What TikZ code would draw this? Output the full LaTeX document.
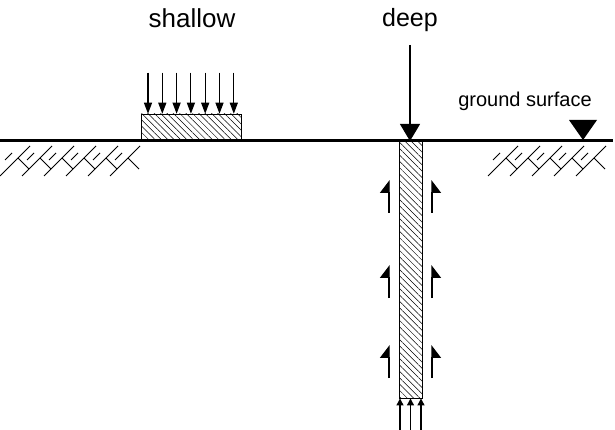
\documentclass[tikz,border=0pt]{standalone}
\usepackage{fontspec}
\setmainfont{Liberation Sans}
\usetikzlibrary{arrows.meta,patterns.meta}

\tikzset{
  load/.style={line width=1.1pt,-{Triangle[width=8pt,length=11pt]}},
  tip/.style={line width=1.1pt,-{Triangle[width=7pt,length=7pt]}},
  frictionL/.style={line width=1.3pt,-{Triangle[left,width=18pt,length=12pt]}},
  frictionR/.style={line width=1.3pt,-{Triangle[right,width=18pt,length=12pt]}},
  hatched/.style={draw,line width=0.9pt,inner sep=0pt,
    pattern={Lines[angle=-45,distance=4.5pt,line width=0.5pt]}},
  soil/.style={line width=0.8pt},
  label/.style={anchor=base,inner sep=0pt}
}
% one herringbone piece of soil
\newcommand{\soilbit}[1]{
  \draw[soil] (#1,176) -- (#1+30,146);
  \draw[soil] (#1+18,158) -- (#1+29,169);
  \draw[soil] (#1+5,160) -- (#1+12,153);
}

\begin{document}
\begin{tikzpicture}[x=1pt,y=-1pt]
  \useasboundingbox (0,0) rectangle (615,430);

  % texts
  \node[label,font=\fontsize{26}{28}\selectfont] (shallow) at (192,28) {shallow};
  \node[label,font=\fontsize{25}{28}\selectfont] (deep) at (410,27) {deep};
  \node[label,font=\fontsize{20}{22}\selectfont] (gs) at (525,107) {ground surface};

  % soil below the ground
  \foreach \x in {0,22,...,110} {\soilbit{\x}}
  \foreach \x in {488,510,...,580} {\soilbit{\x}}

  % footing and pile
  \node[hatched,minimum width=100pt,minimum height=27pt] (foot) at (191,127.5) {};
  \node[hatched,minimum width=23pt,minimum height=257pt] (pile) at (410.5,269.5) {};

  % ground line
  \coordinate (gl) at (0,141);
  \coordinate (gr) at (613,141);
  \draw[line width=3pt] (gl) -- (gr);
  \fill (569,120) -- (597,120) -- (583,140) -- cycle;

  % loads
  \foreach \dx in {-43,-28.7,...,43} {
    \draw[load] ([xshift=\dx pt,yshift=41pt]foot.north) -- ([xshift=\dx pt]foot.north);
  }
  \coordinate (top) at (410,45);
  \draw[line width=1.1pt,-{Triangle[width=20pt,length=17pt]}] (top) -- (410,141);

  % skin friction
  \foreach \yb/\yt in {213/180,298/265,378/345} {
    \draw[frictionL] (389,\yb) -- (389,\yt);
    \draw[frictionR] (432,\yb) -- (432,\yt);
  }

  % end bearing
  \foreach \dx in {-10.5,0,10.5} {
    \draw[tip] ([xshift=\dx pt,yshift=-32pt]pile.south) -- ([xshift=\dx pt]pile.south);
  }
\end{tikzpicture}
\end{document}
